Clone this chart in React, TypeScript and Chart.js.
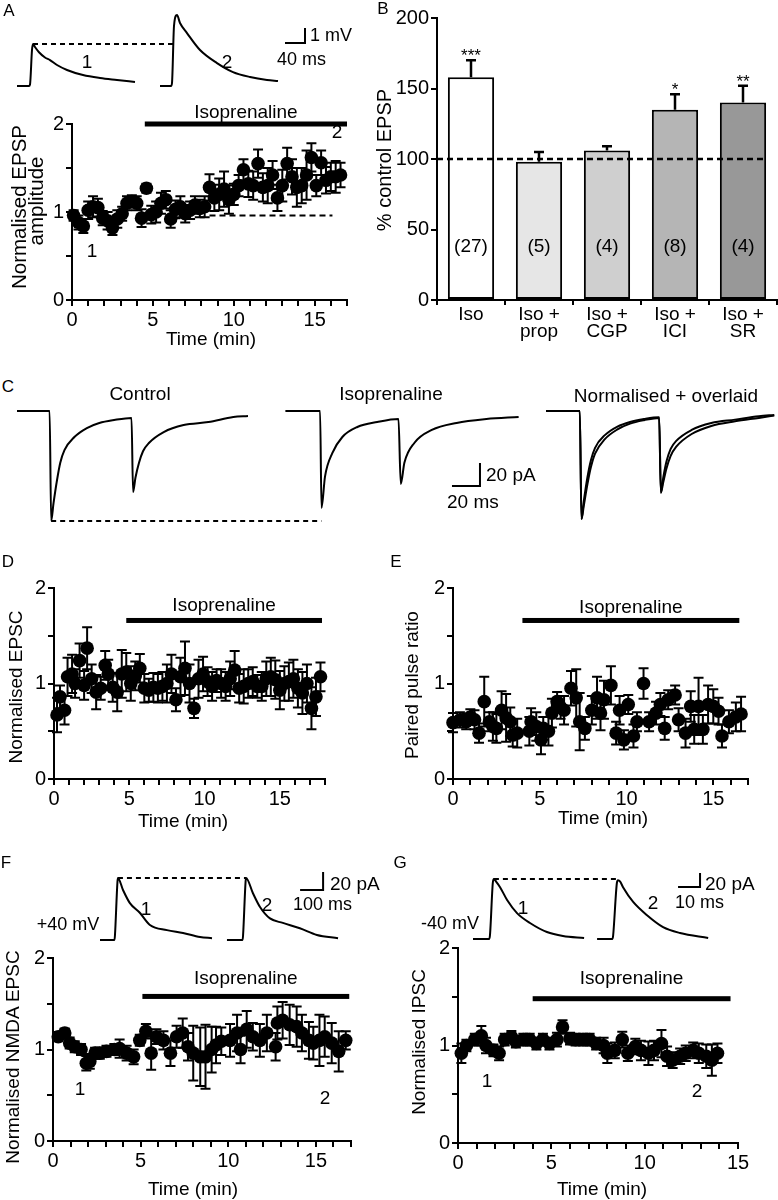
import React, { useEffect, useRef } from 'react';
import { Chart, registerables } from 'chart.js';
Chart.register(...registerables);

const FONT = "'Liberation Sans', Arial, Helvetica, sans-serif";

// ---------------- Panel A ----------------
const aTime = [0.1,0.4,0.7,1.0,1.3,1.6,1.9,2.2,2.5,2.8,3.1,3.4,3.7,4.0,4.3,4.6,4.9,5.2,5.5,5.8,6.1,6.4,6.7,7.0,7.3,7.6,7.9,8.2,8.5,8.8,9.1,9.4,9.7,10.0,10.3,10.6,10.9,11.2,11.5,11.8,12.1,12.4,12.7,13.0,13.3,13.6,13.9,14.2,14.5,14.8,15.1,15.4,15.7,16.0,16.3,16.6];
const aValue = [0.96,0.88,0.84,1.02,1.06,1.05,0.93,0.9,0.82,0.92,0.98,1.1,1.12,1.1,0.93,1.27,0.97,1.0,1.1,1.14,0.92,1.03,1.06,0.98,1.02,1.08,1.04,1.06,1.28,1.16,1.2,1.26,1.14,1.2,1.3,1.48,1.32,1.3,1.55,1.28,1.3,1.42,1.16,1.3,1.55,1.4,1.28,1.3,1.42,1.62,1.3,1.56,1.36,1.4,1.4,1.42];
const aError = [0.06,0.08,0.08,0.1,0.12,0.1,0.08,0.1,0.08,0.1,0.08,0.08,0.07,0.08,0.1,0.05,0.1,0.12,0.12,0.1,0.1,0.1,0.12,0.1,0.1,0.1,0.1,0.12,0.15,0.15,0.18,0.2,0.16,0.12,0.12,0.12,0.15,0.16,0.16,0.16,0.2,0.16,0.15,0.18,0.18,0.2,0.22,0.2,0.28,0.16,0.12,0.14,0.15,0.16,0.18,0.14];
const aIso = [4.5, 17];
const aBaseline = [8.5, 16.1, 0.96];
// EPSP traces (ms, mV)
const aTrace1T = [0,24,26,30,32,36,44,56,66,80,100,132,166,200,236];
const aTrace1V = [0,0,0.1,2.4,2.8,2.6,2.25,1.9,1.73,1.4,1.07,0.73,0.53,0.4,0.27];
const aTrace2T = [0,22,24,28,34,40,54,80,114,146,180,214,236];
const aTrace2V = [0,0,0.2,4.0,4.73,4.2,3.53,2.4,1.53,0.93,0.6,0.4,0.33];
const aScale = [40, 1]; // ms, mV

// ---------------- Panel B ----------------
const bCategories = [['Iso'], ['Iso +', 'prop'], ['Iso +', 'CGP'], ['Iso +', 'ICI'], ['Iso +', 'SR']];
const bValues = [158, 98, 106, 135, 140];
const bErrors = [12, 7, 3, 11, 12];
const bCounts = ['(27)', '(5)', '(4)', '(8)', '(4)'];
const bStars = ['***', '', '', '*', '**'];
const bTicks = [0, 50, 100, 150, 200];

// ---------------- Panel C (ms, pA) ----------------
const cControlT = [0,23.3,24.4,26.1,28.6,30.9,33.9,41,49.9,58.8,69.4,81.8,82.9,84.6,87.1,90,94.2,104.8,119,136.7,154.5,165];
const cControlV = [0,0,-95.6,-80,-60,-45,-34,-22.6,-14.8,-10.4,-7.8,-6,-70.4,-58,-45.2,-35,-27.8,-18.3,-12.2,-9.6,-5.2,-4.3];
const cIsoT = [0,24.8,25.8,28.3,33.6,40.7,51.4,65.6,80.8,82.4,85,92.1,104.6,122.3,143.6,166.6];
const cIsoV = [0,0,-84.3,-57,-36.5,-22.6,-13.9,-9.6,-7,-63.5,-45,-27.8,-16.5,-10.4,-7,-5.2];
const cNormAT = [0,24.1,25.3,27,29.5,32,35,42,51,60,70,80.8,82,83.7,86,89,93,104,118,135,152,163];
const cNormAV = [0,0,-94,-78,-58,-43,-32,-21,-13.5,-9.5,-7,-5.5,-71,-58,-44,-33,-26,-16.5,-10.5,-7.5,-4.5,-3.5];
const cNormBT = [0,24.1,25.3,27,29.5,32,35,42,51,60,70,80.8,82,83.7,86,89,93,104,118,135,152,163];
const cNormBV = [0,0,-94,-82,-64,-49,-37,-24.5,-16,-11,-8,-6,-71,-62,-50,-39,-31,-20,-13,-9,-6,-4];
const cScale = [20, 20]; // ms, pA

// ---------------- Panel D ----------------
const dTime = [0.2,0.4,0.7,0.9,1.2,1.4,1.7,2.0,2.2,2.5,2.8,3.1,3.4,3.6,3.9,4.2,4.5,4.8,5.1,5.4,5.7,6.0,6.3,6.6,6.9,7.2,7.5,7.8,8.1,8.4,8.7,9.0,9.3,9.6,9.9,10.2,10.5,10.8,11.1,11.4,11.7,12.0,12.3,12.6,12.9,13.2,13.5,13.8,14.1,14.4,14.7,15.0,15.3,15.6,15.9,16.2,16.5,16.8,17.1,17.4,17.7];
const dValue = [0.67,0.86,0.72,1.07,1.1,1.0,1.24,0.98,1.37,1.05,0.91,0.95,1.19,1.1,0.96,0.91,1.1,1.12,1.0,1.08,1.16,0.95,0.93,0.96,0.95,0.97,1.0,1.1,0.83,1.07,1.16,1.0,0.74,1.05,1.1,1.02,0.97,1.03,1.0,0.97,1.05,1.14,0.95,0.97,1.0,1.02,0.97,0.97,1.05,1.07,1.04,0.93,1.0,1.02,1.05,0.95,0.9,1.0,0.74,0.86,1.07];
const dError = [0.18,0.12,0.15,0.2,0.2,0.15,0.18,0.15,0.22,0.15,0.18,0.12,0.15,0.15,0.15,0.2,0.25,0.2,0.18,0.15,0.15,0.15,0.12,0.15,0.15,0.15,0.2,0.2,0.12,0.2,0.28,0.2,0.1,0.2,0.18,0.15,0.15,0.12,0.15,0.15,0.18,0.2,0.15,0.18,0.15,0.15,0.12,0.15,0.18,0.2,0.2,0.2,0.18,0.2,0.2,0.2,0.22,0.2,0.22,0.2,0.15];
const dIso = [4.8, 17.8];

// ---------------- Panel E ----------------
const eTime = [0,0.4,0.76,1.0,1.24,1.5,1.8,2.1,2.3,2.5,2.8,3.06,3.3,3.44,3.7,4.4,4.5,4.8,5.07,5.2,5.5,5.7,6.0,6.2,6.4,6.8,7.1,7.3,7.6,8.0,8.3,8.5,8.7,9.1,9.4,9.6,9.85,10.1,10.4,10.6,10.98,11.3,11.7,11.95,12.2,12.4,12.8,13.0,13.4,13.7,13.9,14.15,14.4,14.7,15.0,15.3,15.5,15.9,16.3,16.6];
const eValue = [0.59,0.62,0.6,0.65,0.62,0.48,0.81,0.6,0.55,0.53,0.72,0.64,0.6,0.46,0.48,0.5,0.6,0.55,0.41,0.53,0.5,0.69,0.81,0.75,0.72,0.95,0.85,0.6,0.53,0.72,0.85,0.69,0.83,0.98,0.48,0.72,0.41,0.78,0.45,0.6,1.0,0.6,0.69,0.78,0.53,0.83,0.88,0.62,0.48,0.76,0.52,0.76,0.52,0.78,0.76,0.71,0.45,0.6,0.65,0.68];
const eError = [0.1,0.08,0.08,0.08,0.1,0.1,0.26,0.1,0.15,0.15,0.2,0.25,0.15,0.12,0.15,0.15,0.14,0.15,0.15,0.12,0.15,0.15,0.1,0.12,0.15,0.18,0.3,0.3,0.12,0.15,0.22,0.18,0.2,0.2,0.12,0.15,0.1,0.1,0.12,0.1,0.16,0.1,0.12,0.12,0.12,0.1,0.1,0.12,0.15,0.16,0.15,0.3,0.15,0.2,0.18,0.14,0.12,0.12,0.15,0.18];
const eIso = [4.0, 16.5];

// ---------------- Panel F ----------------
const fTime = [0.3,0.67,0.95,1.24,1.6,1.9,2.1,2.4,2.67,3.05,3.5,3.8,4.2,4.6,4.95,5.3,5.6,5.9,6.3,6.7,7.05,7.4,7.7,8.0,8.4,8.7,9.05,9.3,9.6,10.1,10.5,10.7,11.05,11.4,11.8,12.2,12.7,12.8,13.1,13.5,13.9,14.2,14.6,14.85,15.2,15.5,15.9,16.3,16.7];
const fValue = [1.14,1.18,1.07,1.03,1.0,0.85,0.87,0.96,0.96,0.98,1.0,1.01,0.96,0.92,1.1,1.2,0.96,1.14,1.1,0.96,1.14,1.18,1.03,0.96,0.92,0.92,1.0,1.05,1.09,1.1,1.18,1.0,1.22,1.14,1.1,1.18,1.03,1.29,1.32,1.27,1.25,1.18,1.1,1.07,1.1,1.14,1.07,0.98,1.1];
const fError = [0.05,0.05,0.06,0.06,0.06,0.08,0.08,0.06,0.06,0.06,0.06,0.1,0.08,0.08,0.06,0.08,0.18,0.08,0.1,0.14,0.12,0.16,0.15,0.3,0.32,0.35,0.25,0.2,0.15,0.18,0.2,0.15,0.2,0.15,0.18,0.2,0.15,0.18,0.2,0.22,0.22,0.2,0.2,0.18,0.28,0.22,0.22,0.22,0.1];
const fIso = [5.1, 16.9];
const fTrace1T = [0,63,65,76,78,100,130,174,217,291,361,435,487];
const fTrace1V = [0,0,5,65,69,55.6,41,30,16.7,11,7.8,3.3,2];
const fTrace2T = [0,68,70,81,83,113,143,187,243,317,391,483];
const fTrace2V = [0,0,5,65,69,52,37,24,19,13,5.6,2];
const fScale = [100, 20];

// ---------------- Panel G ----------------
const gTime = [0.18,0.45,0.9,1.25,1.5,1.9,2.2,2.5,2.86,3.1,3.5,3.84,4.2,4.55,4.9,5.3,5.6,6.0,6.3,6.7,7.05,7.4,7.8,8.0,8.4,8.8,9.1,9.5,9.8,10.2,10.5,10.9,11.2,11.5,11.9,12.2,12.6,12.9,13.3,13.6,13.9];
const gValue = [0.92,1.0,1.06,1.1,1.0,0.95,0.92,1.06,1.09,1.04,1.06,1.06,1.02,1.06,1.02,1.06,1.19,1.07,1.06,1.06,1.06,1.02,1.0,0.92,0.95,1.06,0.92,0.99,0.95,0.92,0.95,1.02,0.89,0.85,0.89,0.92,0.95,0.92,0.89,0.85,0.92];
const gError = [0.1,0.06,0.06,0.1,0.08,0.06,0.07,0.06,0.06,0.06,0.06,0.06,0.06,0.06,0.06,0.07,0.07,0.06,0.06,0.06,0.06,0.06,0.08,0.1,0.08,0.08,0.08,0.08,0.1,0.12,0.1,0.14,0.1,0.08,0.08,0.08,0.08,0.1,0.12,0.16,0.1];
const gIso = [4.0, 14.6];
const gTrace1T = [0,7.3,7.7,9,9.5,10.5,12.3,15.5,20,25.9,33.6,40.9,50.5];
const gTrace1V = [0,0,5,80,85.7,82,74,55.7,37,22.9,10,4.3,1.4];
const gTrace2T = [0,7,7.3,9,9.5,10.5,11.8,16.4,22.7,30,37.7,50.5];
const gTrace2V = [0,0,5,80,84,82,74,53,34,17,8.6,1.4];
const gScale = [10, 20];

// ---------------- helpers ----------------
type Rect = { l: number; t: number; r: number; b: number };
type Line = { x: number[]; y: number[]; dash?: boolean; smooth?: boolean };

const pts = (xs: number[], ys: number[], dx = 0) => xs.map((x, i) => ({ x: x + dx, y: ys[i] }));
const argMax = (a: number[]) => a.indexOf(Math.max(...a));
const argMin = (a: number[]) => a.indexOf(Math.min(...a));

function errorBarPlugin(errs: number[]) {
  return {
    id: 'errbars',
    beforeDatasetsDraw(chart: any) {
      const ctx = chart.ctx, xs = chart.scales.x, ys = chart.scales.y;
      const data = chart.data.datasets[0].data;
      ctx.save();
      ctx.strokeStyle = '#000';
      ctx.lineWidth = 2;
      data.forEach((p: any, i: number) => {
        const x = xs.getPixelForValue(p.x);
        const y1 = ys.getPixelForValue(p.y + errs[i]);
        const y2 = ys.getPixelForValue(p.y - errs[i]);
        ctx.beginPath();
        ctx.moveTo(x, y1); ctx.lineTo(x, y2);
        ctx.moveTo(x - 5, y1); ctx.lineTo(x + 5, y1);
        ctx.moveTo(x - 5, y2); ctx.lineTo(x + 5, y2);
        ctx.stroke();
      });
      ctx.restore();
    },
  };
}

function isoPlugin(iso: number[], level: number, gap: number, ref?: number[]) {
  return {
    id: 'isobar',
    afterDatasetsDraw(chart: any) {
      const ctx = chart.ctx, xs = chart.scales.x, ys = chart.scales.y;
      const x1 = xs.getPixelForValue(iso[0]), x2 = xs.getPixelForValue(iso[1]);
      const y = ys.getPixelForValue(level);
      ctx.save();
      ctx.fillStyle = '#000';
      ctx.fillRect(x1, y - 2.5, x2 - x1, 5);
      ctx.font = `19px ${FONT}`;
      ctx.textAlign = 'center';
      ctx.textBaseline = 'alphabetic';
      ctx.fillText('Isoprenaline', (x1 + x2) / 2, y - gap);
      if (ref) {
        const ry = ys.getPixelForValue(ref[2]);
        ctx.strokeStyle = '#000';
        ctx.lineWidth = 2;
        ctx.setLineDash([6, 4]);
        ctx.beginPath();
        ctx.moveTo(xs.getPixelForValue(ref[0]), ry);
        ctx.lineTo(xs.getPixelForValue(ref[1]), ry);
        ctx.stroke();
      }
      ctx.restore();
    },
  };
}

function axisCommon(size: number) {
  return {
    border: { color: '#000', width: 2 },
    grid: { drawOnChartArea: false, color: '#000', lineWidth: 2, tickLength: 6 },
    ticks: { color: '#000', font: { family: FONT, size }, padding: 2, autoSkip: false, maxRotation: 0 },
  };
}

function timePlot(o: { area: Rect; xMax: number; x: number[]; y: number[]; e: number[]; iso: number[]; level: number; gap: number; ref?: number[] }) {
  return (c: HTMLCanvasElement, r: Rect) => {
    const xa = axisCommon(20), ya = axisCommon(20);
    return new Chart(c, {
      type: 'scatter',
      data: { datasets: [{ data: pts(o.x, o.y), pointRadius: 6.8, pointHoverRadius: 6.8, backgroundColor: '#000', borderWidth: 0, clip: false } as any] },
      options: {
        responsive: false, animation: false, events: [],
        layout: { autoPadding: false, padding: { left: 0, top: o.area.t - r.t, right: r.r - o.area.r, bottom: 0 } },
        plugins: { legend: { display: false }, tooltip: { enabled: false } },
        scales: {
          x: { type: 'linear', min: 0, max: o.xMax, afterFit: (s: any) => { s.height = r.b - o.area.b; },
            ...xa, ticks: { ...xa.ticks, stepSize: 1, callback: (v: any) => (Number(v) % 5 === 0 ? String(v) : '') } },
          y: { type: 'linear', min: 0, max: 2, afterFit: (s: any) => { s.width = o.area.l - r.l; },
            ...ya, ticks: { ...ya.ticks, stepSize: 0.5, callback: (v: any) => (Number.isInteger(Number(v)) ? String(v) : '') } },
        } as any,
      },
      plugins: [errorBarPlugin(o.e), isoPlugin(o.iso, o.level, o.gap, o.ref)],
    } as any);
  };
}

function traceChart(o: { ox: number; sx: number; oy: number; sy: number; lines: Line[] }) {
  return (c: HTMLCanvasElement, r: Rect) =>
    new Chart(c, {
      type: 'scatter',
      data: {
        datasets: o.lines.map((L) => ({
          data: pts(L.x, L.y), showLine: true, pointRadius: 0, borderColor: '#000', borderWidth: 2,
          borderDash: L.dash ? [5, 4] : [], cubicInterpolationMode: L.smooth ? 'monotone' : 'default', tension: 0, clip: false,
        })),
      } as any,
      options: {
        responsive: false, animation: false, events: [],
        layout: { autoPadding: false, padding: 0 },
        plugins: { legend: { display: false }, tooltip: { enabled: false } },
        scales: {
          x: { type: 'linear', display: false, min: (r.l - o.ox) / o.sx, max: (r.r - o.ox) / o.sx },
          y: { type: 'linear', display: false, min: (o.oy - r.b) / o.sy, max: (o.oy - r.t) / o.sy },
        },
      } as any,
    });
}

function barChart(area: Rect) {
  return (c: HTMLCanvasElement, r: Rect) => {
    const xa = axisCommon(19), ya = axisCommon(20);
    const extras = {
      id: 'bextras',
      afterDatasetsDraw(chart: any) {
        const ctx = chart.ctx, ys = chart.scales.y;
        const meta = chart.getDatasetMeta(0);
        ctx.save();
        ctx.fillStyle = '#000';
        ctx.strokeStyle = '#000';
        meta.data.forEach((bar: any, i: number) => {
          const x = bar.x;
          const top = ys.getPixelForValue(bValues[i]);
          const et = ys.getPixelForValue(bValues[i] + bErrors[i]);
          ctx.lineWidth = 2.5;
          ctx.beginPath();
          ctx.moveTo(x, top); ctx.lineTo(x, et);
          ctx.moveTo(x - 5, et); ctx.lineTo(x + 5, et);
          ctx.stroke();
          ctx.font = `17px ${FONT}`;
          ctx.textAlign = 'center';
          ctx.textBaseline = 'alphabetic';
          ctx.fillText(bStars[i], x, et + 1);
          ctx.font = `19px ${FONT}`;
          ctx.textBaseline = 'middle';
          ctx.fillText(bCounts[i], x, ys.getPixelForValue(37.5));
        });
        const last = meta.data[meta.data.length - 1];
        const y100 = ys.getPixelForValue(100);
        ctx.lineWidth = 2.5;
        ctx.setLineDash([6, 4]);
        ctx.beginPath();
        ctx.moveTo(chart.chartArea.left, y100);
        ctx.lineTo(last.x + last.width / 2, y100);
        ctx.stroke();
        ctx.restore();
      },
    };
    return new Chart(c, {
      type: 'bar',
      data: {
        labels: bCategories,
        datasets: [{ data: bValues, backgroundColor: ['#ffffff', '#e6e6e6', '#cfcfcf', '#b5b5b5', '#989898'], borderColor: '#000', borderWidth: 2, borderSkipped: false, categoryPercentage: 1, barPercentage: 0.68 }],
      } as any,
      options: {
        responsive: false, animation: false, events: [],
        layout: { autoPadding: false, padding: { left: 0, top: area.t - r.t, right: r.r - area.r, bottom: 0 } },
        plugins: { legend: { display: false }, tooltip: { enabled: false } },
        scales: {
          x: { afterFit: (s: any) => { s.height = r.b - area.b; }, ...xa, grid: { ...xa.grid, offset: true, tickLength: 5 },
            ticks: { ...xa.ticks, padding: 1, font: { family: FONT, size: 19, lineHeight: 0.9 } } },
          y: { min: 0, max: 200, afterFit: (s: any) => { s.width = area.l - r.l; }, ...ya,
            ticks: { ...ya.ticks, stepSize: 50, callback: (v: any) => (bTicks.includes(Number(v)) ? String(v) : '') } },
        } as any,
      },
      plugins: [extras],
    } as any);
  };
}

// ---------------- layout specs ----------------
type Spec = { key: string; rect: Rect; build: (c: HTMLCanvasElement, r: Rect) => Chart };

const aOff = 286; // ms gap between displayed traces
const cIsoOff = 191.7, cNormOff = 377.9;
const fOff = 552;
const gOff = 56.4;

const specs: Spec[] = [
  {
    key: 'aTr', rect: { l: 5, t: 3, r: 330, b: 95 },
    build: traceChart({
      ox: 17, sx: 0.5, oy: 86, sy: 15,
      lines: [
        { x: aTrace1T, y: aTrace1V, smooth: true },
        { x: aTrace2T.map((t) => t + aOff), y: aTrace2V, smooth: true },
        { x: [aTrace1T[argMax(aTrace1V)], aTrace2T[argMax(aTrace2V)] - 6 + aOff], y: [Math.max(...aTrace1V), Math.max(...aTrace1V)], dash: true },
        { x: [536, 536 + aScale[0], 536 + aScale[0]], y: [2.87, 2.87, 2.87 + aScale[1]] },
      ],
    }),
  },
  {
    key: 'aPlot', rect: { l: 0, t: 95, r: 365, b: 345 },
    build: timePlot({ area: { l: 72, t: 124, r: 347, b: 300 }, xMax: 17, x: aTime, y: aValue, e: aError, iso: aIso, level: 2.0, gap: 6, ref: aBaseline }),
  },
  { key: 'b', rect: { l: 380, t: 0, r: 778, b: 345 }, build: barChart({ l: 437, t: 18, r: 777, b: 300 }) },
  {
    key: 'cTr', rect: { l: 0, t: 400, r: 778, b: 530 },
    build: traceChart({
      ox: 17, sx: 1.4, oy: 411, sy: 1.15,
      lines: [
        { x: cControlT, y: cControlV, smooth: true },
        { x: cIsoT.map((t) => t + cIsoOff), y: cIsoV, smooth: true },
        { x: cNormAT.map((t) => t + cNormOff), y: cNormAV, smooth: true },
        { x: cNormBT.map((t) => t + cNormOff), y: cNormBV, smooth: true },
        { x: [cControlT[argMin(cControlV)], cIsoT[argMin(cIsoV)] + cIsoOff], y: [Math.min(...cControlV), Math.min(...cControlV)], dash: true },
        { x: [310.7, 310.7 + cScale[0], 310.7 + cScale[0]], y: [-65.2, -65.2, -65.2 + cScale[1]] },
      ],
    }),
  },
  {
    key: 'dPlot', rect: { l: 0, t: 570, r: 345, b: 810 },
    build: timePlot({ area: { l: 54, t: 588, r: 325, b: 779 }, xMax: 18, x: dTime, y: dValue, e: dError, iso: dIso, level: 1.66, gap: 9 }),
  },
  {
    key: 'ePlot', rect: { l: 400, t: 570, r: 770, b: 810 },
    build: timePlot({ area: { l: 453, t: 588, r: 748, b: 779 }, xMax: 17, x: eTime, y: eValue, e: eError, iso: eIso, level: 1.66, gap: 7 }),
  },
  {
    key: 'fTr', rect: { l: 90, t: 860, r: 350, b: 950 },
    build: traceChart({
      ox: 100, sx: 0.23, oy: 940, sy: 0.9,
      lines: [
        { x: fTrace1T, y: fTrace1V, smooth: true },
        { x: fTrace2T.map((t) => t + fOff), y: fTrace2V, smooth: true },
        { x: [fTrace1T[argMax(fTrace1V)], fTrace2T[argMax(fTrace2V)] + fOff], y: [Math.max(...fTrace1V), Math.max(...fTrace1V)], dash: true },
        { x: [870, 870 + fScale[0], 870 + fScale[0]], y: [55.6, 55.6, 55.6 + fScale[1]] },
      ],
    }),
  },
  {
    key: 'fPlot', rect: { l: 0, t: 935, r: 370, b: 1175 },
    build: timePlot({ area: { l: 53, t: 958, r: 351, b: 1141 }, xMax: 17, x: fTime, y: fValue, e: fError, iso: fIso, level: 1.58, gap: 12 }),
  },
  {
    key: 'gTr', rect: { l: 465, t: 860, r: 715, b: 950 },
    build: traceChart({
      ox: 473, sx: 2.2, oy: 939, sy: 0.7,
      lines: [
        { x: gTrace1T, y: gTrace1V, smooth: true },
        { x: gTrace2T.map((t) => t + gOff), y: gTrace2V, smooth: true },
        { x: [gTrace1T[argMax(gTrace1V)], gTrace2T[argMax(gTrace2V)] + gOff], y: [Math.max(...gTrace1V), Math.max(...gTrace1V)], dash: true },
        { x: [93.2, 93.2 + gScale[0], 93.2 + gScale[0]], y: [74.3, 74.3, 74.3 + gScale[1]] },
      ],
    }),
  },
  {
    key: 'gPlot', rect: { l: 400, t: 930, r: 770, b: 1175 },
    build: timePlot({ area: { l: 458, t: 948, r: 738, b: 1143 }, xMax: 15, x: gTime, y: gValue, e: gError, iso: gIso, level: 1.48, gap: 15 }),
  },
];

// ---------------- text labels ----------------
type Lbl = { t: string; x: number; y: number; s?: number; a?: 'c' | 'l'; r?: boolean; k?: number };
const labels: Lbl[] = [
  { t: 'A', x: 9, y: 10, s: 17 },
  { t: '1', x: 87, y: 61 }, { t: '2', x: 227, y: 61 },
  { t: '1 mV', x: 310, y: 35, s: 18, a: 'l' }, { t: '40 ms', x: 277, y: 59, s: 18, a: 'l' },
  { t: 'Normalised EPSP', x: 19, y: 207, s: 20.5, r: true },
  { t: 'amplitude', x: 36, y: 201, s: 20.5, r: true },
  { t: '1', x: 92, y: 250 }, { t: '2', x: 337, y: 131 },
  { t: 'Time (min)', x: 211, y: 338 },
  { t: 'B', x: 383, y: 8, s: 17 },
  { t: '% control EPSP', x: 384, y: 160, s: 20, r: true },
  { t: 'C', x: 8, y: 386, s: 17 },
  { t: 'Control', x: 140, y: 393 },
  { t: 'Isoprenaline', x: 391, y: 393 },
  { t: 'Normalised + overlaid', x: 666, y: 395 },
  { t: '20 pA', x: 486, y: 474, a: 'l' },
  { t: '20 ms', x: 447, y: 501, a: 'l' },
  { t: 'D', x: 8, y: 561, s: 17 },
  { t: 'Normalised EPSC', x: 15, y: 687, r: true },
  { t: 'Time (min)', x: 183, y: 820 },
  { t: 'E', x: 396, y: 561, s: 17 },
  { t: 'Paired pulse ratio', x: 411, y: 685, r: true },
  { t: 'Time (min)', x: 603, y: 817 },
  { t: 'F', x: 6, y: 862, s: 17 },
  { t: '+40 mV', x: 68, y: 924, s: 18 },
  { t: '1', x: 146, y: 908 }, { t: '2', x: 267, y: 904 },
  { t: '20 pA', x: 330, y: 883, a: 'l' }, { t: '100 ms', x: 293, y: 904, s: 18, a: 'l' },
  { t: 'Normalised NMDA EPSC', x: 12, y: 1057, r: true },
  { t: '1', x: 80, y: 1088 }, { t: '2', x: 325, y: 1097 },
  { t: 'Time (min)', x: 193, y: 1188 },
  { t: 'G', x: 400, y: 862, s: 17 },
  { t: '-40 mV', x: 450, y: 923, s: 18 },
  { t: '1', x: 523, y: 907 }, { t: '2', x: 653, y: 902 },
  { t: '20 pA', x: 705, y: 883, a: 'l' }, { t: '10 ms', x: 675, y: 902, s: 18, a: 'l' },
  { t: 'Normalised IPSC', x: 418, y: 1042, r: true },
  { t: '1', x: 487, y: 1080 }, { t: '2', x: 697, y: 1090 },
  { t: 'Time (min)', x: 602, y: 1188 },
];

function Label({ t, x, y, s = 19, a = 'c', r = false, k = 1 }: Lbl) {
  const sc = k !== 1 ? ` scaleX(${k})` : '';
  const transform = a === 'c' ? `translate(-50%,-50%)${r ? ' rotate(-90deg)' : ''}${sc}` : `translate(0,-50%)${sc}`;
  return (
    <div style={{ position: 'absolute', left: x, top: y, transform, transformOrigin: a === 'c' ? '50% 50%' : '0 50%', fontSize: s, lineHeight: 1, whiteSpace: 'nowrap' }}>
      {t}
    </div>
  );
}

export default function App() {
  const refs = useRef<(HTMLCanvasElement | null)[]>([]);
  useEffect(() => {
    const charts = specs.map((s, i) => s.build(refs.current[i] as HTMLCanvasElement, s.rect));
    return () => charts.forEach((c) => c.destroy());
  }, []);
  return (
    <div style={{ position: 'absolute', left: 0, top: 0, width: 778, height: 1200, background: '#fff', overflow: 'hidden', fontFamily: FONT, color: '#000' }}>
      {specs.map((s, i) => (
        <canvas
          key={s.key}
          ref={(el) => { refs.current[i] = el; }}
          width={s.rect.r - s.rect.l}
          height={s.rect.b - s.rect.t}
          style={{ position: 'absolute', left: s.rect.l, top: s.rect.t, width: s.rect.r - s.rect.l, height: s.rect.b - s.rect.t }}
        />
      ))}
      {labels.map((l, i) => <Label key={i} {...l} />)}
    </div>
  );
}
